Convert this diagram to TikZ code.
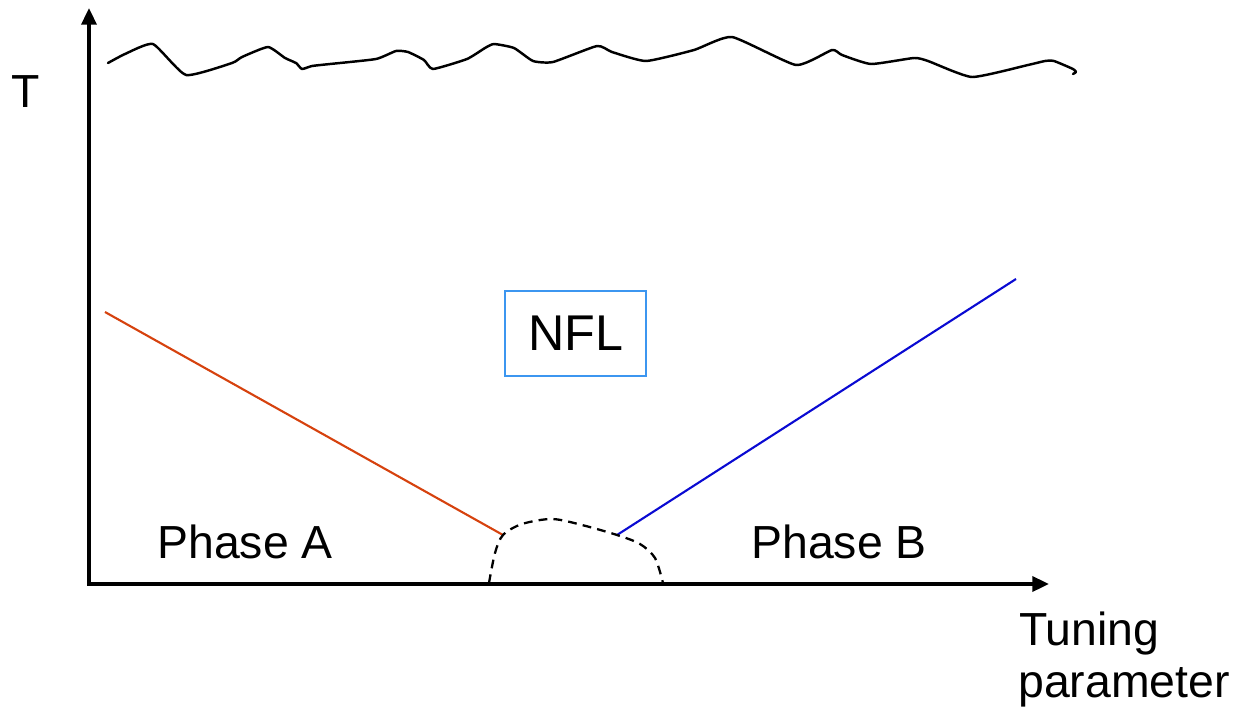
\documentclass[tikz,border=0pt]{standalone}
\usepackage{fontspec}
\setmainfont{Liberation Sans}
\usetikzlibrary{arrows.meta}
\definecolor{lineA}{RGB}{214,66,14}
\definecolor{lineB}{RGB}{10,10,210}
\definecolor{boxblue}{RGB}{60,150,240}
\newlength{\pxu}\setlength{\pxu}{0.02cm}
\tikzset{
  axis/.style={line width=2.1pt,-{Triangle[length=9.5pt,width=8.5pt]}},
  label/.style={font=\fontsize{26.4pt}{30pt}\selectfont,inner sep=0pt},
  phaseline/.style={line width=1.2pt},
  wave/.style={line width=1.4pt,line join=round,line cap=round},
  crossover/.style={line width=1.3pt,dash pattern=on 5pt off 3.5pt},
  nflbox/.style={draw=boxblue,line width=1.2pt,minimum width=141\pxu,minimum height=85\pxu,inner sep=0pt,font=\fontsize{28.6pt}{32pt}\selectfont}
}
\begin{document}
\begin{tikzpicture}[x=0.02cm,y=-0.02cm]
\useasboundingbox (0,0) rectangle (1237,713);
% axes
\coordinate (origin) at (89,584);
\coordinate (ytip) at (89,8);
\coordinate (xtip) at (1049,584);
\draw[axis] (origin) -- (ytip);
\draw[axis] ([xshift=-1.05pt]origin) -- (xtip);
% axis labels
\node[label,anchor=base west] (T) at (11,108) {T};
\node[label,anchor=base west] (tun) at (1019,645) {Tuning};
\node[label,anchor=base west] (par) at (1018,697) {parameter};
% phase labels
\node[label,anchor=base west] (pA) at (157,558) {Phase A};
\node[label,anchor=base west] (pB) at (751,558) {Phase B};
% NFL box
\node[nflbox] (nfl) at (575.5,333.5) {NFL};
% phase boundary lines
\coordinate (rA) at (105,312);
\coordinate (qA) at (503,535);
\coordinate (qB) at (617,535);
\coordinate (rB) at (1016,279);
\draw[phaseline,lineA] (rA) -- (qA);
\draw[phaseline,lineB] (qB) -- (rB);
% dashed dome
\coordinate (d0) at (489,583);
\coordinate (d9) at (663,583);
\draw[crossover] plot[smooth,tension=0.5] coordinates {(d0) (495,553) (qA) (522,524) (552,519) (582,525) (qB) (640,544) (655,558) (d9)};
% high temperature wavy line
\draw[wave] plot[smooth,tension=0.3] coordinates {
(108,63) (125,54) (153,44) (186,75) (232,63) (242,57) (268,47) (285,58) (296,63) (302,69) (312,66) (330,64) (376,59) (396,51) (408,52) (424,60) (433,69) (467,59) (485,48) (494,44) (514,48) (533,61) (553,62) (597,46) (612,52) (646,61) (694,50) (732,37) (796,65) (832,50) (842,55) (871,64) (914,58) (928,61) (972,77) (1028,65) (1045,61) (1054,61) (1073,69) (1076,72) (1073,74)};
\end{tikzpicture}
\end{document}
